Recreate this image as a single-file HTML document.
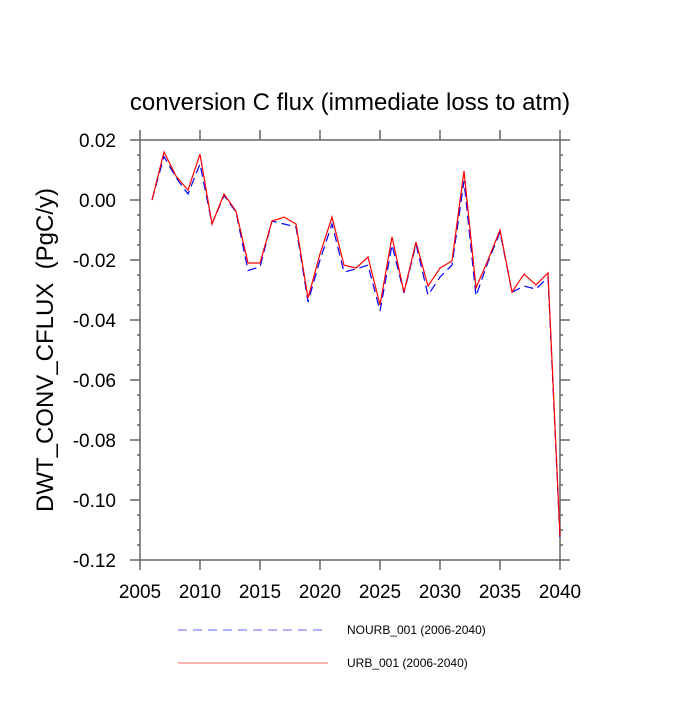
<!DOCTYPE html>
<html><head><meta charset="utf-8"><style>
body{margin:0;background:#fff}
text{font-family:"Liberation Sans",sans-serif}
</style></head><body>
<svg id="chart" width="700" height="700" xmlns="http://www.w3.org/2000/svg"></svg>
<script>
const years=[2006,2007,2008,2009,2010,2011,2012,2013,2014,2015,2016,2017,2018,2019,2020,2021,2022,2023,2024,2025,2026,2027,2028,2029,2030,2031,2032,2033,2034,2035,2036,2037,2038,2039,2040];
const urb=[0,0.016,0.008,0.0033,0.0153,-0.008,0.002,-0.0037,-0.021,-0.021,-0.007,-0.0057,-0.008,-0.0327,-0.018,-0.0057,-0.0217,-0.0227,-0.019,-0.035,-0.0123,-0.0307,-0.014,-0.0287,-0.0227,-0.0203,0.0097,-0.0293,-0.02,-0.01,-0.0307,-0.0247,-0.0283,-0.0243,-0.112];
const nourb=[0,0.0145,0.0075,0.002,0.012,-0.008,0.0015,-0.004,-0.0235,-0.0223,-0.007,-0.008,-0.009,-0.034,-0.02,-0.008,-0.024,-0.023,-0.0217,-0.037,-0.015,-0.031,-0.0147,-0.0317,-0.0257,-0.0217,0.0063,-0.032,-0.0207,-0.0107,-0.0307,-0.0287,-0.0297,-0.0257,-0.113];
const xTicks=[2005,2010,2015,2020,2025,2030,2035,2040];
const yTicks=[0.02,0,-0.02,-0.04,-0.06,-0.08,-0.1,-0.12];
const yTickLabels=["0.02","0.00","-0.02","-0.04","-0.06","-0.08","-0.10","-0.12"];
const L=140,R=560,T=140,B=560;
const xs=v=>L+(v-2005)/35*(R-L);
const ys=v=>T+(0.02-v)/0.14*(B-T);
const svg=document.getElementById('chart');
const NS='http://www.w3.org/2000/svg';
function mk(tag,attrs,parent){const e=document.createElementNS(NS,tag);for(const k in attrs)e.setAttribute(k,attrs[k]);(parent||svg).appendChild(e);return e;}
const axes=mk('g',{});


const st={stroke:'#666','stroke-width':1.5};
xTicks.forEach(v=>{const x=xs(v);
 mk('line',{x1:x,x2:x,y1:B,y2:B+10,...st},axes);mk('line',{x1:x,x2:x,y1:T,y2:T-10,...st},axes);});
for(let k=0;k<=28;k++){const v=0.02-k*0.005;const y=ys(v);const len=(k%4===0)?10:3;
 mk('line',{x1:L,x2:L-len,y1:y,y2:y,...st},axes);mk('line',{x1:R,x2:R+len,y1:y,y2:y,...st},axes);}
mk('rect',{x:L,y:T,width:R-L,height:B-T,fill:'none',...st},axes);
xTicks.forEach(v=>{const t=mk('text',{x:xs(v),y:B+38,'text-anchor':'middle','font-size':19},axes);t.textContent=v;
 
 });
yTicks.forEach((v,i)=>{const t=mk('text',{x:L-24,y:ys(v)+7,'text-anchor':'end','font-size':19},axes);t.textContent=yTickLabels[i];
 
 });
function series(vals,color,dash,name){const p=mk('polyline',{points:vals.map((v,i)=>xs(years[i])+','+ys(v)).join(' '),fill:'none',stroke:color,'stroke-width':1.2,'stroke-dasharray':dash});
 
 }
series(nourb,'#0000ff','9,5','nourb-line');
series(urb,'#ff0000','none','urb-line');
const title=mk('text',{x:350,y:110,'text-anchor':'middle','font-size':24});title.textContent='conversion C flux (immediate loss to atm)';


const yl=mk('text',{x:0,y:0,'text-anchor':'middle','font-size':24,transform:'translate(53,350) rotate(-90)'});yl.textContent='DWT_CONV_CFLUX \u00a0(PgC/y)';


const lg=mk('g',{});


mk('line',{x1:178,x2:328,y1:630,y2:630,stroke:'#6666ff','stroke-width':1,'stroke-dasharray':'9,6'},lg);
const t1=mk('text',{x:347,y:634,'font-size':12},lg);t1.textContent='NOURB_001 (2006-2040)';


mk('line',{x1:178,x2:328,y1:663,y2:663,stroke:'#ff6666','stroke-width':1},lg);
const t2=mk('text',{x:347,y:667,'font-size':12},lg);t2.textContent='URB_001 (2006-2040)';


</script>
</body></html>
